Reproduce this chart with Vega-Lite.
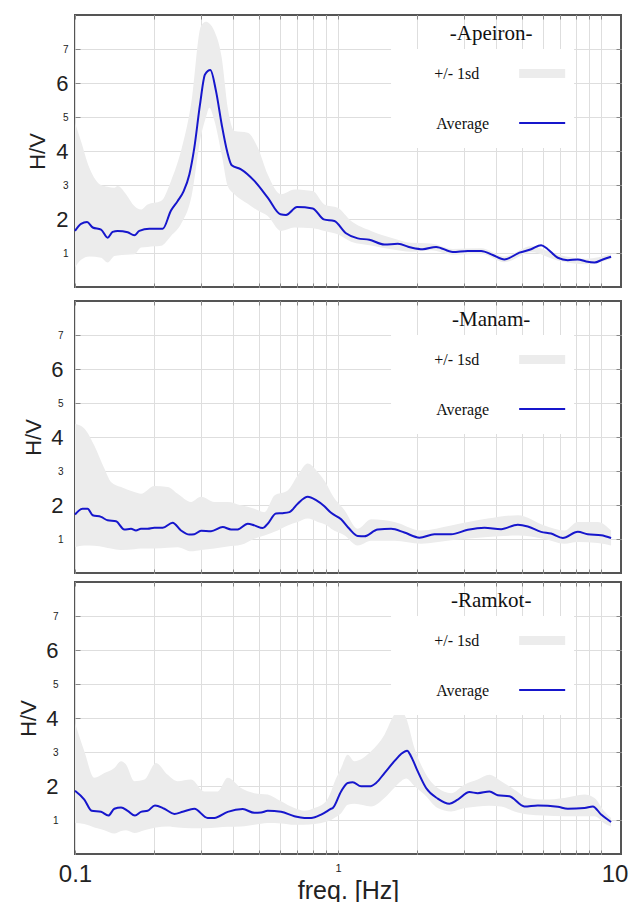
{
"$schema": "https://vega.github.io/schema/vega-lite/v6.json",
"padding": {"left": 16, "top": 13, "right": 0, "bottom": 0},
"spacing": 5,
"config": {"view": {"stroke": "#555", "strokeWidth": 2}, "background": "white"},
"datasets": {
"panels": [{"site": "Apeiron", "title": "-Apeiron-"}, {"site": "Manam", "title": "-Manam-"}, {"site": "Ramkot", "title": "-Ramkot-"}],
"avg": [
{"site":"Apeiron","f":0.1,"hv":1.65},{"site":"Apeiron","f":0.1054,"hv":1.86},{"site":"Apeiron","f":0.1111,"hv":1.91},{"site":"Apeiron","f":0.1168,"hv":1.75},{"site":"Apeiron","f":0.1256,"hv":1.69},{"site":"Apeiron","f":0.1331,"hv":1.45},{"site":"Apeiron","f":0.139,"hv":1.62},{"site":"Apeiron","f":0.1453,"hv":1.65},{"site":"Apeiron","f":0.1586,"hv":1.61},{"site":"Apeiron","f":0.1681,"hv":1.52},{"site":"Apeiron","f":0.1756,"hv":1.65},{"site":"Apeiron","f":0.1917,"hv":1.71},{"site":"Apeiron","f":0.2154,"hv":1.71},{"site":"Apeiron","f":0.2317,"hv":2.25},{"site":"Apeiron","f":0.2457,"hv":2.53},{"site":"Apeiron","f":0.2589,"hv":2.82},{"site":"Apeiron","f":0.2721,"hv":3.31},{"site":"Apeiron","f":0.2842,"hv":4.1},{"site":"Apeiron","f":0.2987,"hv":5.37},{"site":"Apeiron","f":0.312,"hv":6.25},{"site":"Apeiron","f":0.327,"hv":6.38},{"site":"Apeiron","f":0.3436,"hv":5.76},{"site":"Apeiron","f":0.3611,"hv":4.78},{"site":"Apeiron","f":0.3784,"hv":4.0},{"site":"Apeiron","f":0.3942,"hv":3.58},{"site":"Apeiron","f":0.4277,"hv":3.46},{"site":"Apeiron","f":0.4807,"hv":3.12},{"site":"Apeiron","f":0.5402,"hv":2.63},{"site":"Apeiron","f":0.6035,"hv":2.14},{"site":"Apeiron","f":0.6343,"hv":2.12},{"site":"Apeiron","f":0.6984,"hv":2.35},{"site":"Apeiron","f":0.8012,"hv":2.31},{"site":"Apeiron","f":0.882,"hv":1.99},{"site":"Apeiron","f":0.968,"hv":1.94},{"site":"Apeiron","f":1.072,"hv":1.58},{"site":"Apeiron","f":1.188,"hv":1.43},{"site":"Apeiron","f":1.315,"hv":1.39},{"site":"Apeiron","f":1.501,"hv":1.25},{"site":"Apeiron","f":1.687,"hv":1.27},{"site":"Apeiron","f":1.895,"hv":1.16},{"site":"Apeiron","f":2.099,"hv":1.11},{"site":"Apeiron","f":2.358,"hv":1.18},{"site":"Apeiron","f":2.729,"hv":1.03},{"site":"Apeiron","f":3.112,"hv":1.06},{"site":"Apeiron","f":3.498,"hv":1.06},{"site":"Apeiron","f":3.874,"hv":0.94},{"site":"Apeiron","f":4.29,"hv":0.81},{"site":"Apeiron","f":4.893,"hv":1.01},{"site":"Apeiron","f":5.418,"hv":1.11},{"site":"Apeiron","f":5.914,"hv":1.23},{"site":"Apeiron","f":6.269,"hv":1.11},{"site":"Apeiron","f":6.843,"hv":0.86},{"site":"Apeiron","f":7.47,"hv":0.79},{"site":"Apeiron","f":8.154,"hv":0.81},{"site":"Apeiron","f":8.77,"hv":0.75},{"site":"Apeiron","f":9.433,"hv":0.72},{"site":"Apeiron","f":10.15,"hv":0.81},{"site":"Apeiron","f":10.91,"hv":0.89},
{"site":"Manam","f":0.1,"hv":1.72},{"site":"Manam","f":0.1069,"hv":1.89},{"site":"Manam","f":0.1117,"hv":1.89},{"site":"Manam","f":0.1167,"hv":1.7},{"site":"Manam","f":0.1256,"hv":1.65},{"site":"Manam","f":0.1331,"hv":1.55},{"site":"Manam","f":0.1432,"hv":1.52},{"site":"Manam","f":0.154,"hv":1.28},{"site":"Manam","f":0.1633,"hv":1.3},{"site":"Manam","f":0.1705,"hv":1.25},{"site":"Manam","f":0.1781,"hv":1.3},{"site":"Manam","f":0.1889,"hv":1.3},{"site":"Manam","f":0.2002,"hv":1.33},{"site":"Manam","f":0.2154,"hv":1.33},{"site":"Manam","f":0.2351,"hv":1.48},{"site":"Manam","f":0.2529,"hv":1.25},{"site":"Manam","f":0.2721,"hv":1.13},{"site":"Manam","f":0.2842,"hv":1.14},{"site":"Manam","f":0.3013,"hv":1.24},{"site":"Manam","f":0.3289,"hv":1.23},{"site":"Manam","f":0.3643,"hv":1.35},{"site":"Manam","f":0.392,"hv":1.28},{"site":"Manam","f":0.4154,"hv":1.28},{"site":"Manam","f":0.4535,"hv":1.45},{"site":"Manam","f":0.4807,"hv":1.4},{"site":"Manam","f":0.5171,"hv":1.32},{"site":"Manam","f":0.5402,"hv":1.45},{"site":"Manam","f":0.581,"hv":1.75},{"site":"Manam","f":0.6162,"hv":1.76},{"site":"Manam","f":0.6531,"hv":1.79},{"site":"Manam","f":0.7025,"hv":2.04},{"site":"Manam","f":0.7669,"hv":2.24},{"site":"Manam","f":0.8249,"hv":2.14},{"site":"Manam","f":0.8872,"hv":1.96},{"site":"Manam","f":0.9406,"hv":1.77},{"site":"Manam","f":1.027,"hv":1.58},{"site":"Manam","f":1.104,"hv":1.3},{"site":"Manam","f":1.188,"hv":1.09},{"site":"Manam","f":1.259,"hv":1.08},{"site":"Manam","f":1.415,"hv":1.28},{"site":"Manam","f":1.591,"hv":1.3},{"site":"Manam","f":1.787,"hv":1.19},{"site":"Manam","f":2.039,"hv":1.04},{"site":"Manam","f":2.324,"hv":1.14},{"site":"Manam","f":2.69,"hv":1.14},{"site":"Manam","f":3.112,"hv":1.27},{"site":"Manam","f":3.602,"hv":1.33},{"site":"Manam","f":4.167,"hv":1.29},{"site":"Manam","f":4.822,"hv":1.42},{"site":"Manam","f":5.263,"hv":1.37},{"site":"Manam","f":5.914,"hv":1.21},{"site":"Manam","f":6.455,"hv":1.16},{"site":"Manam","f":7.149,"hv":1.03},{"site":"Manam","f":8.154,"hv":1.21},{"site":"Manam","f":8.899,"hv":1.14},{"site":"Manam","f":10.0,"hv":1.11},{"site":"Manam","f":10.91,"hv":1.03},
{"site":"Ramkot","f":0.1,"hv":1.86},{"site":"Ramkot","f":0.1085,"hv":1.6},{"site":"Ramkot","f":0.1157,"hv":1.27},{"site":"Ramkot","f":0.1256,"hv":1.24},{"site":"Ramkot","f":0.1339,"hv":1.13},{"site":"Ramkot","f":0.1411,"hv":1.33},{"site":"Ramkot","f":0.1496,"hv":1.37},{"site":"Ramkot","f":0.1586,"hv":1.27},{"site":"Ramkot","f":0.169,"hv":1.13},{"site":"Ramkot","f":0.1781,"hv":1.24},{"site":"Ramkot","f":0.1889,"hv":1.27},{"site":"Ramkot","f":0.2014,"hv":1.43},{"site":"Ramkot","f":0.2186,"hv":1.33},{"site":"Ramkot","f":0.2385,"hv":1.18},{"site":"Ramkot","f":0.2567,"hv":1.24},{"site":"Ramkot","f":0.2842,"hv":1.33},{"site":"Ramkot","f":0.3194,"hv":1.06},{"site":"Ramkot","f":0.3386,"hv":1.06},{"site":"Ramkot","f":0.3806,"hv":1.24},{"site":"Ramkot","f":0.434,"hv":1.32},{"site":"Ramkot","f":0.4807,"hv":1.21},{"site":"Ramkot","f":0.5096,"hv":1.22},{"site":"Ramkot","f":0.5402,"hv":1.27},{"site":"Ramkot","f":0.6071,"hv":1.24},{"site":"Ramkot","f":0.6823,"hv":1.11},{"site":"Ramkot","f":0.7447,"hv":1.06},{"site":"Ramkot","f":0.7896,"hv":1.06},{"site":"Ramkot","f":0.8618,"hv":1.16},{"site":"Ramkot","f":0.887,"hv":1.21},{"site":"Ramkot","f":0.9406,"hv":1.33},{"site":"Ramkot","f":0.954,"hv":1.35},{"site":"Ramkot","f":1.027,"hv":1.84},{"site":"Ramkot","f":1.088,"hv":2.09},{"site":"Ramkot","f":1.137,"hv":2.11},{"site":"Ramkot","f":1.223,"hv":1.99},{"site":"Ramkot","f":1.315,"hv":1.99},{"site":"Ramkot","f":1.395,"hv":2.09},{"site":"Ramkot","f":1.501,"hv":2.38},{"site":"Ramkot","f":1.637,"hv":2.73},{"site":"Ramkot","f":1.736,"hv":2.94},{"site":"Ramkot","f":1.83,"hv":3.04},{"site":"Ramkot","f":1.895,"hv":2.87},{"site":"Ramkot","f":2.009,"hv":2.43},{"site":"Ramkot","f":2.161,"hv":1.94},{"site":"Ramkot","f":2.393,"hv":1.63},{"site":"Ramkot","f":2.651,"hv":1.48},{"site":"Ramkot","f":2.851,"hv":1.6},{"site":"Ramkot","f":3.158,"hv":1.82},{"site":"Ramkot","f":3.397,"hv":1.79},{"site":"Ramkot","f":3.762,"hv":1.84},{"site":"Ramkot","f":4.047,"hv":1.73},{"site":"Ramkot","f":4.482,"hv":1.7},{"site":"Ramkot","f":5.111,"hv":1.4},{"site":"Ramkot","f":5.743,"hv":1.43},{"site":"Ramkot","f":6.843,"hv":1.39},{"site":"Ramkot","f":7.47,"hv":1.33},{"site":"Ramkot","f":8.643,"hv":1.35},{"site":"Ramkot","f":9.297,"hv":1.4},{"site":"Ramkot","f":10.0,"hv":1.16},{"site":"Ramkot","f":10.91,"hv":0.94}
],
"band": [
{"site":"Apeiron","f":0.1,"lo":0.57,"hi":4.83},{"site":"Apeiron","f":0.1054,"lo":0.8,"hi":4.29},{"site":"Apeiron","f":0.1134,"lo":0.9,"hi":3.51},{"site":"Apeiron","f":0.1256,"lo":0.86,"hi":3.0},{"site":"Apeiron","f":0.1331,"lo":0.72,"hi":2.95},{"site":"Apeiron","f":0.1411,"lo":0.91,"hi":2.92},{"site":"Apeiron","f":0.1453,"lo":0.93,"hi":2.97},{"site":"Apeiron","f":0.1563,"lo":0.95,"hi":2.73},{"site":"Apeiron","f":0.1681,"lo":0.96,"hi":2.38},{"site":"Apeiron","f":0.1781,"lo":1.16,"hi":2.28},{"site":"Apeiron","f":0.1889,"lo":1.18,"hi":2.43},{"site":"Apeiron","f":0.2123,"lo":1.21,"hi":2.53},{"site":"Apeiron","f":0.2317,"lo":1.5,"hi":3.12},{"site":"Apeiron","f":0.2529,"lo":1.85,"hi":4.0},{"site":"Apeiron","f":0.2761,"lo":2.6,"hi":5.37},{"site":"Apeiron","f":0.3013,"lo":4.45,"hi":7.68},{"site":"Apeiron","f":0.3148,"lo":5.0,"hi":7.8},{"site":"Apeiron","f":0.3242,"lo":5.27,"hi":7.75},{"site":"Apeiron","f":0.3386,"lo":4.9,"hi":7.53},{"site":"Apeiron","f":0.3611,"lo":3.9,"hi":6.75},{"site":"Apeiron","f":0.3806,"lo":2.97,"hi":5.27},{"site":"Apeiron","f":0.4035,"lo":2.73,"hi":4.59},{"site":"Apeiron","f":0.4535,"lo":2.45,"hi":4.54},{"site":"Apeiron","f":0.495,"lo":2.25,"hi":4.1},{"site":"Apeiron","f":0.5402,"lo":2.09,"hi":3.31},{"site":"Apeiron","f":0.6071,"lo":1.65,"hi":2.73},{"site":"Apeiron","f":0.6823,"lo":1.75,"hi":2.87},{"site":"Apeiron","f":0.8012,"lo":1.73,"hi":2.82},{"site":"Apeiron","f":0.8872,"lo":1.65,"hi":2.43},{"site":"Apeiron","f":0.997,"lo":1.55,"hi":2.33},{"site":"Apeiron","f":1.121,"lo":1.33,"hi":1.94},{"site":"Apeiron","f":1.335,"lo":1.22,"hi":1.65},{"site":"Apeiron","f":1.591,"lo":1.11,"hi":1.45},{"site":"Apeiron","f":1.895,"lo":1.04,"hi":1.3},{"site":"Apeiron","f":2.258,"lo":1.08,"hi":1.28},{"site":"Apeiron","f":2.729,"lo":0.95,"hi":1.12},{"site":"Apeiron","f":3.498,"lo":0.98,"hi":1.14},{"site":"Apeiron","f":4.29,"lo":0.73,"hi":0.9},{"site":"Apeiron","f":5.418,"lo":1.02,"hi":1.2},{"site":"Apeiron","f":6.843,"lo":0.78,"hi":0.95},{"site":"Apeiron","f":8.77,"lo":0.67,"hi":0.83},{"site":"Apeiron","f":10.91,"lo":0.82,"hi":0.96},
{"site":"Manam","f":0.1,"lo":0.76,"hi":4.39},{"site":"Manam","f":0.1085,"lo":0.81,"hi":4.25},{"site":"Manam","f":0.1184,"lo":0.8,"hi":3.75},{"site":"Manam","f":0.1293,"lo":0.76,"hi":3.07},{"site":"Manam","f":0.137,"lo":0.72,"hi":2.68},{"site":"Manam","f":0.1496,"lo":0.68,"hi":2.53},{"site":"Manam","f":0.1681,"lo":0.7,"hi":2.38},{"site":"Manam","f":0.1781,"lo":0.72,"hi":2.33},{"site":"Manam","f":0.2002,"lo":0.72,"hi":2.56},{"site":"Manam","f":0.2251,"lo":0.74,"hi":2.53},{"site":"Manam","f":0.2457,"lo":0.76,"hi":2.33},{"site":"Manam","f":0.2761,"lo":0.64,"hi":2.09},{"site":"Manam","f":0.3013,"lo":0.68,"hi":2.24},{"site":"Manam","f":0.3386,"lo":0.72,"hi":2.09},{"site":"Manam","f":0.3806,"lo":0.78,"hi":2.09},{"site":"Manam","f":0.4277,"lo":0.83,"hi":1.99},{"site":"Manam","f":0.4807,"lo":1.01,"hi":1.89},{"site":"Manam","f":0.5246,"lo":1.1,"hi":1.79},{"site":"Manam","f":0.5728,"lo":1.21,"hi":2.28},{"site":"Manam","f":0.6435,"lo":1.4,"hi":2.43},{"site":"Manam","f":0.7025,"lo":1.5,"hi":2.87},{"site":"Manam","f":0.7669,"lo":1.6,"hi":3.22},{"site":"Manam","f":0.8369,"lo":1.5,"hi":2.97},{"site":"Manam","f":0.9136,"lo":1.38,"hi":2.55},{"site":"Manam","f":0.941,"lo":1.3,"hi":2.35},{"site":"Manam","f":1.057,"lo":1.11,"hi":1.85},{"site":"Manam","f":1.188,"lo":0.81,"hi":1.3},{"site":"Manam","f":1.335,"lo":0.95,"hi":1.58},{"site":"Manam","f":1.637,"lo":0.95,"hi":1.5},{"site":"Manam","f":2.068,"lo":0.86,"hi":1.25},{"site":"Manam","f":2.69,"lo":0.96,"hi":1.4},{"site":"Manam","f":3.708,"lo":1.06,"hi":1.6},{"site":"Manam","f":4.822,"lo":1.1,"hi":1.7},{"site":"Manam","f":6.088,"lo":1.0,"hi":1.4},{"site":"Manam","f":7.256,"lo":0.86,"hi":1.25},{"site":"Manam","f":8.154,"lo":0.91,"hi":1.5},{"site":"Manam","f":9.712,"lo":0.88,"hi":1.5},{"site":"Manam","f":10.91,"lo":0.81,"hi":1.25},
{"site":"Ramkot","f":0.1,"lo":0.91,"hi":3.85},{"site":"Ramkot","f":0.1085,"lo":0.88,"hi":3.02},{"site":"Ramkot","f":0.1184,"lo":0.78,"hi":2.24},{"site":"Ramkot","f":0.1293,"lo":0.7,"hi":2.38},{"site":"Ramkot","f":0.1411,"lo":0.6,"hi":2.53},{"site":"Ramkot","f":0.1496,"lo":0.68,"hi":2.73},{"site":"Ramkot","f":0.1563,"lo":0.7,"hi":2.63},{"site":"Ramkot","f":0.1681,"lo":0.62,"hi":2.14},{"site":"Ramkot","f":0.1835,"lo":0.7,"hi":2.19},{"site":"Ramkot","f":0.2032,"lo":0.78,"hi":2.68},{"site":"Ramkot","f":0.2251,"lo":0.81,"hi":2.33},{"site":"Ramkot","f":0.2457,"lo":0.78,"hi":2.14},{"site":"Ramkot","f":0.2761,"lo":0.76,"hi":2.19},{"site":"Ramkot","f":0.3102,"lo":0.76,"hi":1.84},{"site":"Ramkot","f":0.3487,"lo":0.78,"hi":1.84},{"site":"Ramkot","f":0.3806,"lo":0.8,"hi":2.24},{"site":"Ramkot","f":0.4277,"lo":0.81,"hi":1.94},{"site":"Ramkot","f":0.4807,"lo":0.86,"hi":1.79},{"site":"Ramkot","f":0.5402,"lo":0.91,"hi":1.75},{"site":"Ramkot","f":0.6071,"lo":0.9,"hi":1.55},{"site":"Ramkot","f":0.6823,"lo":0.86,"hi":1.35},{"site":"Ramkot","f":0.7447,"lo":0.86,"hi":1.27},{"site":"Ramkot","f":0.8128,"lo":0.88,"hi":1.35},{"site":"Ramkot","f":0.9002,"lo":0.95,"hi":1.55},{"site":"Ramkot","f":0.9406,"lo":1.0,"hi":1.84},{"site":"Ramkot","f":0.968,"lo":1.06,"hi":2.1},{"site":"Ramkot","f":1.027,"lo":1.2,"hi":2.53},{"site":"Ramkot","f":1.088,"lo":1.45,"hi":2.92},{"site":"Ramkot","f":1.154,"lo":1.48,"hi":2.73},{"site":"Ramkot","f":1.335,"lo":1.4,"hi":3.02},{"site":"Ramkot","f":1.501,"lo":1.65,"hi":3.51},{"site":"Ramkot","f":1.637,"lo":1.95,"hi":4.1},{"site":"Ramkot","f":1.711,"lo":2.1,"hi":4.25},{"site":"Ramkot","f":1.814,"lo":2.22,"hi":4.0},{"site":"Ramkot","f":1.951,"lo":2.0,"hi":3.12},{"site":"Ramkot","f":2.129,"lo":1.75,"hi":2.43},{"site":"Ramkot","f":2.393,"lo":1.35,"hi":1.94},{"site":"Ramkot","f":2.69,"lo":1.25,"hi":1.79},{"site":"Ramkot","f":3.022,"lo":1.35,"hi":2.04},{"site":"Ramkot","f":3.397,"lo":1.4,"hi":2.19},{"site":"Ramkot","f":3.762,"lo":1.42,"hi":2.33},{"site":"Ramkot","f":4.167,"lo":1.4,"hi":2.14},{"site":"Ramkot","f":4.684,"lo":1.25,"hi":1.89},{"site":"Ramkot","f":5.263,"lo":1.16,"hi":1.65},{"site":"Ramkot","f":6.088,"lo":1.13,"hi":1.6},{"site":"Ramkot","f":7.256,"lo":1.11,"hi":1.65},{"site":"Ramkot","f":8.643,"lo":1.11,"hi":1.75},{"site":"Ramkot","f":9.433,"lo":1.11,"hi":1.65},{"site":"Ramkot","f":10.3,"lo":0.9,"hi":1.25},{"site":"Ramkot","f":10.91,"lo":0.81,"hi":1.06}
]
},
"vconcat": [
{
"spacing": 10,
"vconcat": [
{
"width": 546, "height": 272,
"resolve": {"axis": {"x": "independent", "y": "independent"}},
"layer": [
{"data": {"name": "band"}, "transform": [{"filter": "datum.site == 'Apeiron'"}],
 "mark": {"type": "area", "color": "#ececec", "interpolate": "monotone"},
 "encoding": {
  "x": {"field": "f", "type": "quantitative", "scale": {"type": "log", "domain": [0.1, 11.9], "nice": false},
   "axis": {"values": [0.1,0.2,0.3,0.4,0.5,0.6,0.7,0.8,0.9,1,2,3,4,5,6,7,8,9,10], "labels": false, "grid": true, "gridColor": "#dedede", "domain": false, "ticks": true, "tickSize": -4, "tickColor": "#888", "title": null}},
  "y": {"field": "lo", "type": "quantitative", "scale": {"domain": [0, 8], "nice": false},
   "axis": {"values": [1,2,3,4,5,6,7], "grid": true, "gridColor": "#dedede", "domain": false, "ticks": true, "tickSize": -5, "tickColor": "#888", "labelFont": "Liberation Sans", "labelColor": "#222", "labelFontSize": {"condition": {"test": "datum.value % 2 == 0", "value": 22}, "value": 10}, "labelPadding": 12, "labelFlush": false, "labelOverlap": false, "title": "H/V", "titleFont": "Liberation Sans", "titleFontSize": 22, "titleFontWeight": "normal", "titleColor": "#222", "titlePadding": 6}},
  "y2": {"field": "hi"}
 }},
{"data": {"values": [{}]}, "mark": {"type": "rect", "fill": "white"},
 "encoding": {"x": {"datum": 1.59, "type": "quantitative", "axis": null}, "x2": {"datum": 7.89}, "y": {"datum": 7.0, "type": "quantitative", "axis": null}, "y2": {"datum": 4.09}}},
{"data": {"name": "avg"}, "transform": [{"filter": "datum.site == 'Apeiron'"}],
 "mark": {"type": "line", "color": "#1616cc", "strokeWidth": 2, "interpolate": "monotone"},
 "encoding": {
  "x": {"field": "f", "type": "quantitative", "axis": {"orient": "top", "values": [0.1,0.2,0.3,0.4,0.5,0.6,0.7,0.8,0.9,1,2,3,4,5,6,7,8,9,10], "labels": false, "grid": false, "domain": false, "tickSize": -4, "tickColor": "#888", "title": null}},
  "y": {"field": "hv", "type": "quantitative", "axis": {"orient": "right", "values": [1,2,3,4,5,6,7], "labels": false, "grid": false, "domain": false, "tickSize": -5, "tickColor": "#888", "title": null}}
 }},
{"data": {"name": "panels"}, "transform": [{"filter": "datum.site == 'Apeiron'"}],
 "mark": {"type": "text", "font": "Liberation Serif", "fontSize": 21, "align": "center", "baseline": "middle", "color": "#111"},
 "encoding": {"text": {"field": "title"}, "x": {"datum": 3.82, "type": "quantitative", "axis": null}, "y": {"datum": 7.44, "type": "quantitative", "axis": null}}},
{"data": {"values": [{}]}, "mark": {"type": "text", "text": "+/- 1sd", "font": "Liberation Serif", "fontSize": 16, "align": "left", "baseline": "middle", "color": "#111"},
 "encoding": {"x": {"datum": 2.32, "type": "quantitative", "axis": null}, "y": {"datum": 6.26, "type": "quantitative", "axis": null}}},
{"data": {"values": [{}]}, "mark": {"type": "text", "text": "Average", "font": "Liberation Serif", "fontSize": 16, "align": "left", "baseline": "middle", "color": "#111"},
 "encoding": {"x": {"datum": 2.36, "type": "quantitative", "axis": null}, "y": {"datum": 4.79, "type": "quantitative", "axis": null}}},
{"data": {"values": [{}]}, "mark": {"type": "rect", "fill": "#ececec"},
 "encoding": {"x": {"datum": 4.88, "type": "quantitative", "axis": null}, "x2": {"datum": 7.3}, "y": {"datum": 6.15, "type": "quantitative", "axis": null}, "y2": {"datum": 6.41}}},
{"data": {"values": [{}]}, "mark": {"type": "rule", "color": "#1616cc", "strokeWidth": 2},
 "encoding": {"x": {"datum": 4.88, "type": "quantitative", "axis": null}, "x2": {"datum": 7.3}, "y": {"datum": 4.82, "type": "quantitative", "axis": null}}}
]
},
{
"width": 546, "height": 272,
"resolve": {"axis": {"x": "independent", "y": "independent"}},
"layer": [
{"data": {"name": "band"}, "transform": [{"filter": "datum.site == 'Manam'"}],
 "mark": {"type": "area", "color": "#ececec", "interpolate": "monotone"},
 "encoding": {
  "x": {"field": "f", "type": "quantitative", "scale": {"type": "log", "domain": [0.1, 11.9], "nice": false},
   "axis": {"values": [0.1,0.2,0.3,0.4,0.5,0.6,0.7,0.8,0.9,1,2,3,4,5,6,7,8,9,10], "labels": false, "grid": true, "gridColor": "#dedede", "domain": false, "ticks": true, "tickSize": -4, "tickColor": "#888", "title": null}},
  "y": {"field": "lo", "type": "quantitative", "scale": {"domain": [0, 8], "nice": false},
   "axis": {"values": [1,2,3,4,5,6,7], "grid": true, "gridColor": "#dedede", "domain": false, "ticks": true, "tickSize": -5, "tickColor": "#888", "labelFont": "Liberation Sans", "labelColor": "#222", "labelFontSize": {"condition": {"test": "datum.value % 2 == 0", "value": 22}, "value": 10}, "labelPadding": 17, "labelFlush": false, "labelOverlap": false, "title": "H/V", "titleFont": "Liberation Sans", "titleFontSize": 22, "titleFontWeight": "normal", "titleColor": "#222", "titlePadding": 5}},
  "y2": {"field": "hi"}
 }},
{"data": {"values": [{}]}, "mark": {"type": "rect", "fill": "white"},
 "encoding": {"x": {"datum": 1.59, "type": "quantitative", "axis": null}, "x2": {"datum": 7.89}, "y": {"datum": 7.0, "type": "quantitative", "axis": null}, "y2": {"datum": 4.09}}},
{"data": {"name": "avg"}, "transform": [{"filter": "datum.site == 'Manam'"}],
 "mark": {"type": "line", "color": "#1616cc", "strokeWidth": 2, "interpolate": "monotone"},
 "encoding": {
  "x": {"field": "f", "type": "quantitative", "axis": {"orient": "top", "values": [0.1,0.2,0.3,0.4,0.5,0.6,0.7,0.8,0.9,1,2,3,4,5,6,7,8,9,10], "labels": false, "grid": false, "domain": false, "tickSize": -4, "tickColor": "#888", "title": null}},
  "y": {"field": "hv", "type": "quantitative", "axis": {"orient": "right", "values": [1,2,3,4,5,6,7], "labels": false, "grid": false, "domain": false, "tickSize": -5, "tickColor": "#888", "title": null}}
 }},
{"data": {"name": "panels"}, "transform": [{"filter": "datum.site == 'Manam'"}],
 "mark": {"type": "text", "font": "Liberation Serif", "fontSize": 21, "align": "center", "baseline": "middle", "color": "#111"},
 "encoding": {"text": {"field": "title"}, "x": {"datum": 3.82, "type": "quantitative", "axis": null}, "y": {"datum": 7.44, "type": "quantitative", "axis": null}}},
{"data": {"values": [{}]}, "mark": {"type": "text", "text": "+/- 1sd", "font": "Liberation Serif", "fontSize": 16, "align": "left", "baseline": "middle", "color": "#111"},
 "encoding": {"x": {"datum": 2.32, "type": "quantitative", "axis": null}, "y": {"datum": 6.26, "type": "quantitative", "axis": null}}},
{"data": {"values": [{}]}, "mark": {"type": "text", "text": "Average", "font": "Liberation Serif", "fontSize": 16, "align": "left", "baseline": "middle", "color": "#111"},
 "encoding": {"x": {"datum": 2.36, "type": "quantitative", "axis": null}, "y": {"datum": 4.79, "type": "quantitative", "axis": null}}},
{"data": {"values": [{}]}, "mark": {"type": "rect", "fill": "#ececec"},
 "encoding": {"x": {"datum": 4.88, "type": "quantitative", "axis": null}, "x2": {"datum": 7.3}, "y": {"datum": 6.15, "type": "quantitative", "axis": null}, "y2": {"datum": 6.41}}},
{"data": {"values": [{}]}, "mark": {"type": "rule", "color": "#1616cc", "strokeWidth": 2},
 "encoding": {"x": {"datum": 4.88, "type": "quantitative", "axis": null}, "x2": {"datum": 7.3}, "y": {"datum": 4.82, "type": "quantitative", "axis": null}}}
]
}
]
},
{
"width": 546, "height": 272,
"resolve": {"axis": {"x": "independent", "y": "independent"}},
"layer": [
{"data": {"name": "band"}, "transform": [{"filter": "datum.site == 'Ramkot'"}],
 "mark": {"type": "area", "color": "#ececec", "interpolate": "monotone"},
 "encoding": {
  "x": {"field": "f", "type": "quantitative", "scale": {"type": "log", "domain": [0.1, 11.9], "nice": false},
   "axis": {"values": [0.1,0.2,0.3,0.4,0.5,0.6,0.7,0.8,0.9,1,2,3,4,5,6,7,8,9,10], "grid": true, "gridColor": "#dedede", "domain": false, "ticks": true, "tickSize": -4, "tickColor": "#888",
    "labelExpr": "datum.value == 0.1 ? '0.1' : datum.value == 1 ? '1' : datum.value == 10 ? '10' : ''",
    "labelFont": "Liberation Sans", "labelColor": "#222", "labelFontSize": {"condition": {"test": "datum.value == 1", "value": 11}, "value": 24},
    "labelAlign": {"condition": {"test": "datum.value == 10", "value": "left"}, "value": "center"},
    "labelBaseline": "top", "labelPadding": 12, "labelFlush": false, "labelOverlap": false,
    "title": "freq. [Hz]", "titleFont": "Liberation Sans", "titleFontSize": 25, "titleFontWeight": "normal", "titleColor": "#222", "titleY": 44, "titleBaseline": "alphabetic"}},
  "y": {"field": "lo", "type": "quantitative", "scale": {"domain": [0, 8], "nice": false},
   "axis": {"values": [1,2,3,4,5,6,7], "grid": true, "gridColor": "#dedede", "domain": false, "ticks": true, "tickSize": -5, "tickColor": "#888", "labelFont": "Liberation Sans", "labelColor": "#222", "labelFontSize": {"condition": {"test": "datum.value % 2 == 0", "value": 22}, "value": 10}, "labelPadding": 22, "labelFlush": false, "labelOverlap": false, "title": "H/V", "titleFont": "Liberation Sans", "titleFontSize": 22, "titleFontWeight": "normal", "titleColor": "#222", "titlePadding": 5}},
  "y2": {"field": "hi"}
 }},
{"data": {"values": [{}]}, "mark": {"type": "rect", "fill": "white"},
 "encoding": {"x": {"datum": 1.59, "type": "quantitative", "axis": null}, "x2": {"datum": 7.89}, "y": {"datum": 7.0, "type": "quantitative", "axis": null}, "y2": {"datum": 4.09}}},
{"data": {"name": "avg"}, "transform": [{"filter": "datum.site == 'Ramkot'"}],
 "mark": {"type": "line", "color": "#1616cc", "strokeWidth": 2, "interpolate": "monotone"},
 "encoding": {
  "x": {"field": "f", "type": "quantitative", "axis": {"orient": "top", "values": [0.1,0.2,0.3,0.4,0.5,0.6,0.7,0.8,0.9,1,2,3,4,5,6,7,8,9,10], "labels": false, "grid": false, "domain": false, "tickSize": -4, "tickColor": "#888", "title": null}},
  "y": {"field": "hv", "type": "quantitative", "axis": {"orient": "right", "values": [1,2,3,4,5,6,7], "labels": false, "grid": false, "domain": false, "tickSize": -5, "tickColor": "#888", "title": null}}
 }},
{"data": {"name": "panels"}, "transform": [{"filter": "datum.site == 'Ramkot'"}],
 "mark": {"type": "text", "font": "Liberation Serif", "fontSize": 21, "align": "center", "baseline": "middle", "color": "#111"},
 "encoding": {"text": {"field": "title"}, "x": {"datum": 3.82, "type": "quantitative", "axis": null}, "y": {"datum": 7.44, "type": "quantitative", "axis": null}}},
{"data": {"values": [{}]}, "mark": {"type": "text", "text": "+/- 1sd", "font": "Liberation Serif", "fontSize": 16, "align": "left", "baseline": "middle", "color": "#111"},
 "encoding": {"x": {"datum": 2.32, "type": "quantitative", "axis": null}, "y": {"datum": 6.26, "type": "quantitative", "axis": null}}},
{"data": {"values": [{}]}, "mark": {"type": "text", "text": "Average", "font": "Liberation Serif", "fontSize": 16, "align": "left", "baseline": "middle", "color": "#111"},
 "encoding": {"x": {"datum": 2.36, "type": "quantitative", "axis": null}, "y": {"datum": 4.79, "type": "quantitative", "axis": null}}},
{"data": {"values": [{}]}, "mark": {"type": "rect", "fill": "#ececec"},
 "encoding": {"x": {"datum": 4.88, "type": "quantitative", "axis": null}, "x2": {"datum": 7.3}, "y": {"datum": 6.15, "type": "quantitative", "axis": null}, "y2": {"datum": 6.41}}},
{"data": {"values": [{}]}, "mark": {"type": "rule", "color": "#1616cc", "strokeWidth": 2},
 "encoding": {"x": {"datum": 4.88, "type": "quantitative", "axis": null}, "x2": {"datum": 7.3}, "y": {"datum": 4.82, "type": "quantitative", "axis": null}}}
]
}
]
}
